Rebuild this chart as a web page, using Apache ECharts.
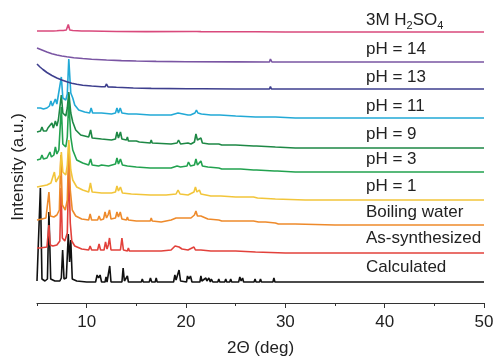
<!DOCTYPE html>
<html>
<head>
<meta charset="utf-8">
<script src="https://cdn.jsdelivr.net/npm/echarts@6/dist/echarts.min.js"></script>
<style>
  html, body { margin: 0; padding: 0; background: #fff; }
  #chart { width: 496px; height: 359px; }
</style>
</head>
<body>
<div id="chart"></div>
<script>
// sample names, bottom to top
var names = ['Calculated', 'As-synthesized', 'Boiling water', 'pH = 1', 'pH = 3',
  'pH = 9', 'pH = 11', 'pH = 13', 'pH = 14', '{a|3M H}{s|2}{a|SO}{s|4}'];

// vertical offset of each trace (a.u.)
var offsets = [21, 50, 78, 103, 131, 155, 185, 214, 241, 271];

// [2theta, intensity above offset]
var calculated = [[5,1],[5.2,2],[5.34,94],[5.5,3],[5.8,1],[6.05,3],[6.2,70],[6.38,3],[6.8,1],[7.3,1],[7.45,4],[7.58,32],[7.72,3],[7.95,4],[8.15,48],[8.28,20],[8.4,42],[8.55,3],[9,1],[10,0],[10.9,0],[11.05,7],[11.2,4],[11.35,7],[11.5,0],[11.85,0],[11.95,5],[12.05,0],[12.2,0],[12.32,16],[12.45,0],[13.55,0],[13.67,14],[13.8,1],[14,1],[14.1,6],[14.2,0],[15.5,0],[15.6,3],[15.7,0],[16.3,0],[16.42,4],[16.55,0],[16.9,0],[17,4],[17.1,0],[17.4,0],[17.5,2],[17.6,0],[18.75,0],[18.88,7],[19,2],[19.1,3],[19.3,12],[19.45,1],[20.05,0],[20.15,6],[20.3,3],[20.45,6],[20.6,0],[21.4,0],[21.5,6],[21.6,1],[21.8,1],[22,4],[22.1,1],[22.3,4],[22.45,0],[22.55,3],[22.7,0],[23.2,0],[23.3,3],[23.4,0],[23.9,0],[24,3],[24.1,0],[24.4,0],[24.5,3],[24.6,0],[24.95,0],[25.05,2],[25.15,0],[25.3,0],[25.42,5],[25.55,1],[25.7,4],[25.8,0],[26.85,0],[26.95,3],[27.05,0],[27.4,0],[27.5,3],[27.6,0],[28.75,0],[28.85,4],[28.95,0],[30.4,0],[30.5,2],[30.6,0],[31,0],[31.1,1],[31.2,0],[32.9,0],[33,2],[33.1,0],[35.9,0],[36,1],[36.1,0],[44.4,0],[44.5,2],[44.6,0],[50,0]];
var asSynthesized = [[5,5],[5.3,5],[5.5,6],[6,6],[6.1,8],[6.2,28],[6.32,8],[6.6,7],[7,8],[7.3,12],[7.42,65],[7.55,15],[7.8,12],[8.05,20],[8.2,85],[8.35,30],[8.5,12],[8.8,7],[9.5,4],[10.2,3],[10.35,7],[10.5,3],[11.1,3],[11.25,9],[11.4,3],[11.75,3],[11.9,11],[12.05,4],[12.18,8],[12.3,15],[12.45,3],[13.4,3],[13.55,15],[13.7,3],[14.1,2],[14.2,5],[14.3,2],[15,2],[16.5,2],[16.6,3],[16.7,2],[17.5,2],[18.5,3],[18.9,7],[19.3,6],[19.6,4],[20.2,3],[20.8,6],[20.95,3],[21.5,3],[22.5,2],[23.5,2],[25,2],[25.1,3],[25.2,1],[27,1],[30,0],[50,0]];
var boilingWater = [[5,5],[5.5,6],[5.9,7],[6.05,9],[6.2,33],[6.35,9],[6.7,8],[7,10],[7.25,15],[7.4,70],[7.55,20],[7.85,15],[8.05,25],[8.2,80],[8.35,35],[8.55,15],[8.9,9],[9.5,6],[10.2,5],[10.35,11],[10.5,5],[11.1,5],[11.25,9],[11.4,5],[11.7,6],[11.85,13],[12,7],[12.15,10],[12.3,15],[12.45,6],[12.9,7],[13.05,13],[13.2,8],[13.38,13],[13.55,6],[14,5],[14.1,8],[14.2,5],[15,4],[16.4,4],[16.5,7],[16.6,4],[17.5,3],[18.5,5],[19,7],[19.2,9],[19.5,7],[20,7],[20.2,9],[20.5,7],[20.85,10],[21,14],[21.15,9],[21.5,9],[21.6,7],[22.2,6],[23.3,5],[23.45,7],[23.6,4],[24.1,4],[25,4],[26,4],[26.8,4],[27,5],[27.3,3],[28,3],[29,2],[29.1,3],[29.3,1],[31,1],[35,0],[50,0]];
var ph1 = [[5,13],[5.5,14],[6,15],[6.4,17],[6.6,18],[6.75,28],[6.9,18],[7.1,20],[7.3,25],[7.45,48],[7.6,28],[7.9,25],[8.05,35],[8.2,60],[8.4,30],[8.6,20],[9,13],[9.6,10],[10.2,8],[10.38,17],[10.55,8],[11.5,7],[12.5,7],[12.9,8],[13.05,14],[13.2,9],[13.4,13],[13.6,7],[14.5,6],[16.4,5],[16.5,7],[16.6,5],[18,5],[19,6],[19.2,10],[19.4,6],[20.2,5],[20.8,8],[20.95,13],[21.1,8],[21.35,10],[21.5,6],[22.5,4],[23.5,4],[23.6,5],[23.7,3],[25,3],[26.8,3],[27,4],[27.2,2],[29,1],[32,0],[50,0]];
var ph3 = [[5,12],[5.35,13],[5.5,17],[5.65,13],[6,14],[6.15,16],[6.3,20],[6.45,15],[6.7,17],[6.85,25],[7,18],[7.2,22],[7.45,65],[7.6,28],[7.9,25],[8.05,35],[8.2,72],[8.4,35],[8.6,22],[9,12],[9.6,9],[10.2,7],[10.4,13],[10.55,7],[11.2,6],[11.5,7],[12.2,6],[12.9,8],[13.05,14],[13.2,8],[13.4,13],[13.6,7],[14.1,6],[14.2,8],[14.3,5],[15,5],[16.4,4],[16.5,6],[16.6,4],[18.5,4],[19.1,6],[19.25,8],[19.45,5],[20.1,6],[20.25,10],[20.45,6],[20.85,7],[21,13],[21.15,7],[21.35,9],[21.5,11],[21.65,6],[22.2,5],[23.3,4],[23.45,6],[23.6,3],[24.5,3],[25.5,3],[26.8,2],[26.95,4],[27.1,2],[28.9,1],[29.05,3],[29.2,1],[31,0],[50,0]];
var ph9 = [[5,16],[5.35,17],[5.5,21],[5.65,17],[5.95,17],[6.1,20],[6.25,18],[6.5,25],[6.65,20],[6.85,27],[7,22],[7.15,28],[7.3,30],[7.45,53],[7.6,35],[7.9,32],[8.05,40],[8.2,56],[8.4,35],[8.6,26],[8.9,18],[9.4,13],[10.2,11],[10.4,18],[10.55,10],[11.5,9],[12.5,8],[12.9,9],[13.05,16],[13.2,10],[13.4,16],[13.55,9],[14,8],[14.1,11],[14.2,7],[15,7],[15.1,9],[15.3,6],[16.4,5],[16.5,8],[16.6,5],[18.5,4],[19.1,5],[19.25,8],[19.45,4],[20.2,5],[20.3,7],[20.5,4],[20.85,6],[21,14],[21.15,8],[21.35,7],[21.5,10],[21.65,5],[22.3,4],[23.3,4],[23.45,6],[23.6,3],[25,3],[25.1,4],[25.2,2],[26.8,2],[26.95,4],[27.1,2],[29,1],[29.1,3],[29.2,1],[31,0],[50,0]];
var ph11 = [[5,10],[5.35,10],[5.5,12],[5.65,9],[6,10],[6.25,12],[6.4,17],[6.55,12],[6.7,14],[6.85,19],[7,14],[7.2,16],[7.45,41],[7.6,20],[7.9,18],[8.05,24],[8.2,59],[8.4,25],[8.6,20],[8.8,13],[9.2,8],[9.8,6],[10.3,5],[10.45,10],[10.6,5],[11.5,5],[12.5,4],[12.9,5],[13.05,10],[13.2,5],[13.38,10],[13.55,5],[14.2,4],[15,4],[16.4,3],[16.5,5],[16.6,3],[18.5,3],[19.2,5],[19.4,3],[20.2,3],[20.3,5],[20.45,3],[20.9,5],[21.05,8],[21.2,5],[21.4,6],[21.55,4],[22.5,3],[23.4,3],[23.5,4],[23.6,2],[25,2],[27,1],[29,1],[29.1,2],[29.2,0],[31,0],[50,0]];
var ph13 = [[5,25],[5.3,22],[5.6,19.5],[6,16.5],[6.5,13.5],[7,11],[7.5,9],[8,7.2],[8.5,5.8],[9,4.8],[9.6,3.8],[10.5,3],[11.5,2.3],[11.85,2.2],[12,5],[12.15,2.1],[13,1.7],[14.7,1],[16.5,0.6],[20.1,0.3],[20.2,1.5],[20.3,0.3],[21.7,0.3],[21.8,1.8],[21.9,0.2],[25,0],[28.4,0],[28.5,2.5],[28.6,0],[47.4,0],[47.5,1.5],[47.6,0],[50,0]];
var ph14 = [[5,14],[5.5,12],[6,10],[6.5,8.3],[7,7],[7.5,6],[8,5.2],[8.7,4.3],[9.6,3.5],[10.5,2.8],[12,2],[13.5,1.4],[15,1],[17,0.6],[20,0.3],[25,0.1],[28.4,0],[28.5,3],[28.65,0],[50,0]];
var h2so4 = [[5,1],[6,1],[6.35,1],[6.5,2.3],[6.65,1],[7,1.2],[7.15,2.5],[7.3,1.5],[7.5,3],[7.65,1.5],[7.95,2],[8.15,7.5],[8.3,2],[8.6,1.5],[9.5,1],[10.3,1],[10.4,2],[10.5,0.8],[13,0.5],[13.1,1.5],[13.2,0.5],[16,0.4],[20.7,0.5],[20.9,1.8],[21.1,0.5],[21.3,1.5],[21.5,0.4],[25,0.2],[27,0.2],[30,0],[50,0]];

var xTicks = ['5', '10', '15', '20', '25', '30', '35', '40', '45', '50'];

var traces = [calculated, asSynthesized, boilingWater, ph1, ph3, ph9, ph11, ph13, ph14, h2so4];
var colors = ['#111111', '#e2413b', '#ee8a2b', '#f2c53a', '#22a24f', '#1e8845',
  '#22a9d6', '#3e3f8e', '#7a55a3', '#d9497c'];
var labelTops = [267, 238, 212, 186, 159.5, 134, 106, 77, 49, 20];

var font = 'Liberation Sans, Arial, sans-serif';
var chart = echarts.init(document.getElementById('chart'));

var series = traces.map(function (pts, i) {
  return {
    name: names[i],
    type: 'line',
    data: pts.map(function (p) { return [p[0], offsets[i] + p[1]]; }),
    symbol: 'none',
    clip: false,
    lineStyle: { color: colors[i], width: 1.6 },
    z: 2 + i,
    animation: false
  };
});

var graphics = names.map(function (n, i) {
  return {
    type: 'text',
    x: 366,
    y: labelTops[i],
    style: {
      text: n,
      font: '17px ' + font,
      fill: '#222',
      textAlign: 'left',
      textVerticalAlign: 'middle',
      rich: {
        a: { fontSize: 17, fontFamily: font, fill: '#222', lineHeight: 17, verticalAlign: 'middle' },
        s: { fontSize: 11, fontFamily: font, fill: '#222', lineHeight: 11, verticalAlign: 'top', padding: [9, 0, 0, 0] }
      }
    }
  };
});
graphics.push({
  type: 'text',
  x: 18,
  y: 167,
  rotation: Math.PI / 2,
  style: {
    text: 'Intensity (a.u.)',
    font: '17px ' + font,
    fill: '#222',
    textAlign: 'center',
    textVerticalAlign: 'middle'
  }
});

chart.setOption({
  backgroundColor: '#fff',
  animation: false,
  grid: { left: 37, right: 12, top: 10, bottom: 56, outerBoundsMode: 'none' },
  xAxis: [{
    type: 'value',
    min: 5,
    max: 50,
    interval: 5,
    name: '2\u0398 (deg)',
    nameLocation: 'middle',
    nameGap: 37,
    nameTextStyle: { fontSize: 17, fontFamily: font, color: '#222' },
    axisLine: { lineStyle: { color: '#333', width: 1.2 } },
    axisTick: { length: 3, lineStyle: { color: '#333' } },
    axisLabel: {
      fontSize: 17, fontFamily: font, color: '#222', margin: 11,
      formatter: function (v) { return v % 10 === 0 ? String(v) : ''; }
    },
    splitLine: { show: false }
  }, {
    type: 'category',
    data: xTicks,
    boundaryGap: false,
    position: 'bottom',
    axisLine: { show: false },
    axisTick: {
      length: 5,
      lineStyle: { color: '#333' },
      interval: function (idx) { return idx % 2 === 1; }
    },
    axisLabel: { show: false },
    splitLine: { show: false }
  }],
  yAxis: { type: 'value', min: 0, max: 293, show: false },
  graphic: graphics,
  series: series
});
</script>
</body>
</html>
